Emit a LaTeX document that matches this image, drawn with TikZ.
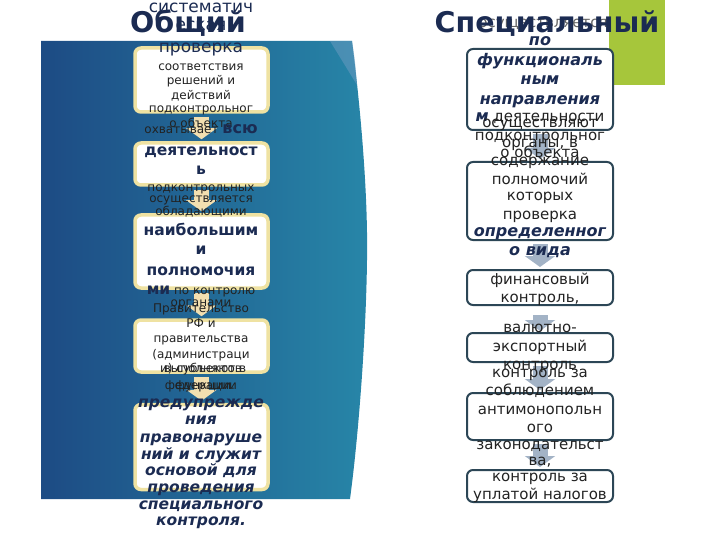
\documentclass[tikz,border=0pt]{standalone}
\usepackage{fontspec}
\setmainfont{DejaVu Sans}
\usetikzlibrary{arrows.meta}
\definecolor{navy}{HTML}{1B2B52}
\definecolor{dgray}{HTML}{222222}
\definecolor{panelL}{HTML}{1D4B84}
\definecolor{panelR}{HTML}{2786A8}
\definecolor{panelHi}{HTML}{6F9CC2}
\definecolor{lime}{HTML}{A6C63B}
\definecolor{lboxline}{HTML}{EFE2A2}
\definecolor{larrowc}{HTML}{F2DFB0}
\definecolor{rboxline}{HTML}{2C4656}
\definecolor{rarrowc}{HTML}{A3B3C6}
\tikzset{
  lbox/.style={draw=lboxline, fill=white, line width=3.5pt, rounded corners=6pt,
    minimum width=133pt, inner sep=0pt},
  rbox/.style={draw=rboxline, fill=white, line width=2pt, rounded corners=6pt,
    minimum width=146pt, inner sep=0pt},
  larrow/.style={draw=larrowc, line width=15pt, -{Triangle[width=30pt,length=11pt]}},
  rarrow/.style={draw=rarrowc, line width=15pt, -{Triangle[width=30pt,length=11pt]}},
  txt/.style={anchor=mid, inner sep=0pt},
  ttl/.style={anchor=base, inner sep=0pt, text=navy, font=\fontsize{28.5}{32}\selectfont\bfseries},
  lbig/.style={txt, text=navy, font=\fontsize{17}{19}\selectfont},
  lsm/.style={txt, text=dgray, font=\fontsize{12}{14}\selectfont},
  lbold/.style={txt, text=navy, font=\fontsize{15.5}{19}\selectfont\bfseries},
  lbi/.style={txt, text=navy, font=\fontsize{15.5}{17}\selectfont\bfseries\itshape},
  rsm/.style={txt, text=dgray, font=\fontsize{15}{17}\selectfont},
  rbi/.style={txt, text=navy, font=\fontsize{16}{19}\selectfont\bfseries\itshape},
}
\begin{document}
\begin{tikzpicture}[x=1pt,y=-1pt]
\useasboundingbox (0,0) rectangle (720,540);
% blue panel
\shade[left color=panelL, right color=panelR]
  (41,41) -- (352,41) .. controls (362,120) and (368,200) .. (367,260)
  .. controls (366,340) and (358,440) .. (350,499) -- (41,499) -- cycle;
\fill[panelHi, opacity=0.5] (330,41) -- (352,41) .. controls (355,60) .. (357,85) -- cycle;
% green block
\fill[lime] (609,0) rectangle (665,85);

% left boxes
\node[lbox, minimum height=64pt] (b1) at (201.5,80) {};
\node[lbox, minimum height=42pt] (b2) at (201.5,164) {};
\node[lbox, minimum height=73pt] (b3) at (201.5,251.5) {};
\node[lbox, minimum height=52pt] (b4) at (201.5,346) {};
\node[lbox, minimum height=85pt] (b5) at (201.5,447) {};
% right boxes
\node[rbox, minimum height=81pt] (r1) at (540,89.5) {};
\node[rbox, minimum height=78pt] (r2) at (540,201) {};
\node[rbox, minimum height=35pt] (r3) at (540,287.5) {};
\node[rbox, minimum height=29pt] (r4) at (540,347.5) {};
\node[rbox, minimum height=47pt] (r5) at (540,416.5) {};
\node[rbox, minimum height=32pt] (r6) at (540,486) {};

% arrows
\draw[larrow, shorten <=3pt, shorten >=2pt] (b1.south) -- (b2.north);
\draw[larrow, shorten <=3pt, shorten >=2pt] (b2.south) -- (b3.north);
\draw[larrow, shorten <=3pt, shorten >=2pt] (b3.south) -- (b4.north);
\draw[larrow, shorten <=3pt, shorten >=2pt] (b4.south) -- (b5.north);
\draw[rarrow, shorten <=3pt, shorten >=2pt] (r1.south) -- (r2.north);
\draw[rarrow, shorten <=3pt, shorten >=2pt] (r2.south) -- (r3.north);
\draw[rarrow, shorten <=9pt, shorten >=1pt] (r3.south) -- (r4.north);
\draw[rarrow, shorten <=3pt, shorten >=2pt] (r4.south) -- (r5.north);
\draw[rarrow, shorten <=3pt, shorten >=2pt] (r5.south) -- (r6.north);

% left texts
\node[lbig] (l1a) at (201,10) {систематич};
\node[lbig] (l1b) at (201,28) {еская};
\node[lbig] (l1c) at (201,50) {проверка};
\foreach \yy/\tx in {68/соответствия, 82/решений и, 97/действий, 110/подконтрольног, 125/о объекта}
  \node[lsm, name=l1-\yy] at (201,\yy) {\tx};
\node[lsm] (l2a) at (201,131) {охватывает {\fontsize{16}{19}\selectfont\bfseries\color{navy}всю}};
\node[lbold] (l2b) at (201,153) {деятельност};
\node[lbold] (l2c) at (201,172) {ь};
\node[lsm] (l2d) at (201,189) {подконтрольных};
\node[lsm] (l3a) at (201,200) {осуществляется};
\node[lsm] (l3b) at (201,213) {обладающими};
\node[lbold] (l3c) at (201,233) {наибольшим};
\node[lbold] (l3d) at (201,252) {и};
\node[lbold] (l3e) at (201,273) {полномочия};
\node[lsm] (l3f) at (201,292) {{\fontsize{15.5}{19}\selectfont\bfseries\color{navy}ми} по контролю};
\node[lsm] (l3g) at (201,304) {органами};
\foreach \yy/\tx in {310/Правительство, 325/РФ и, 340/правительства, 356/(администраци, 370/и) субъектов, 387/федерации}
  \node[lsm, name=l4-\yy] at (201,\yy) {\tx};
\node[lsm] (l4x) at (205,370) {выполняют в};
\node[lsm] (l4y) at (205,387) {функции.};
\foreach \yy/\tx in {405/предупрежде, 422/ния, 440/правонаруше, 457/ний и служит, 473/основой для, 490/проведения, 507/специального, 523/контроля.}
  \node[lbi, name=l5-\yy] at (201,\yy) {\tx};

% right texts
\node[rsm, text=dgray!70] (rh) at (543,25) {осуществляется};
\node[rbi] (ra1) at (540,43) {по};
\node[rbi] (ra2) at (540,63) {функциональ};
\node[rbi] (ra3) at (540,82) {ным};
\node[rbi] (ra4) at (540,102) {направления};
\node[rsm] (ra5) at (540,119) {{\fontsize{16}{19}\selectfont\bfseries\itshape\color{navy}м} деятельности};
\node[rsm] (ra6) at (540,138) {подконтрольног};
\node[rsm] (ra7) at (540,155) {о объекта};
\foreach \yy/\tx in {125/осуществляют, 145/{органы, в}, 163/содержание, 182/полномочий, 198/которых, 217/проверка}
  \node[rsm, name=rb-\yy] at (540,\yy) {\tx};
\node[rbi] (rb8) at (540,234) {определенног};
\node[rbi] (rb9) at (540,253) {о вида};
\node[rsm] (rc1) at (540,282) {финансовый};
\node[rsm] (rc2) at (540,300) {контроль,};
\node[rsm] (rd1) at (540,330) {валютно-};
\node[rsm] (rd2) at (540,349) {экспортный};
\node[rsm] (rd3) at (540,367) {контроль};
\foreach \yy/\tx in {375/контроль за, 393/соблюдением, 412/антимонопольн, 430/ого, 447/законодательст, 463/{ва,}}
  \node[rsm, name=re-\yy] at (540,\yy) {\tx};
\node[rsm] (rf1) at (540,479) {контроль за};
\node[rsm] (rf2) at (540,497) {уплатой налогов};

% titles
\node[ttl] (t1) at (188,33) {Общий};
\node[ttl] (t2) at (547,33) {Специальный};
\end{tikzpicture}
\end{document}
